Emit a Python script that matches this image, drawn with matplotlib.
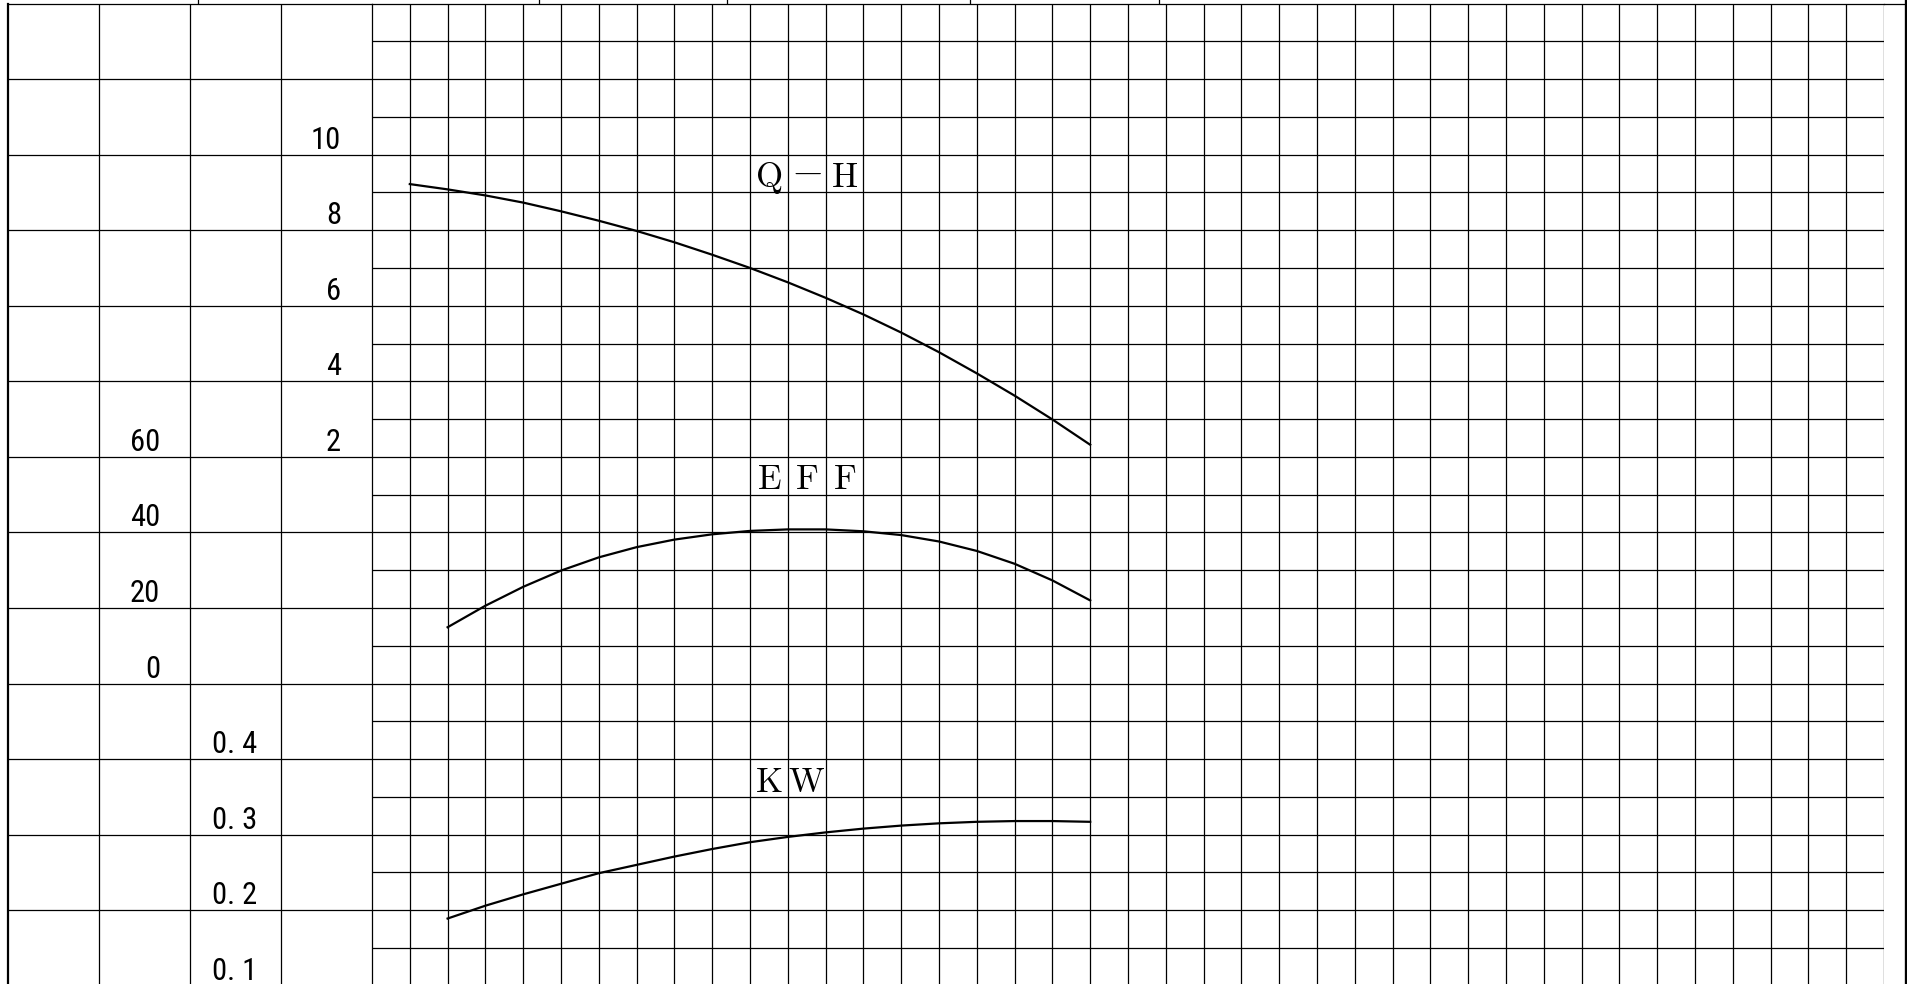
import matplotlib.pyplot as plt
from matplotlib import font_manager
from matplotlib.transforms import blended_transform_factory

# flow positions are counted in grid columns
qh_flow = list(range(1, 20))
qh_head = [9.22, 9.08, 8.92, 8.73, 8.50, 8.25, 7.98, 7.68, 7.35, 7.00,
           6.62, 6.21, 5.77, 5.29, 4.77, 4.21, 3.62, 2.99, 2.32]

eff_flow = list(range(2, 20))
eff_pct = [14.9, 20.6, 25.6, 29.9, 33.4, 36.1, 38.1, 39.5, 40.4, 40.8,
           40.8, 40.3, 39.3, 37.6, 35.1, 31.7, 27.3, 22.0]

kw_flow = list(range(2, 20))
kw_power = [0.189, 0.206, 0.221, 0.235, 0.249, 0.260, 0.271, 0.281, 0.290,
            0.297, 0.303, 0.308, 0.312, 0.315, 0.317, 0.318, 0.318, 0.317]

head_ticks = [10, 8, 6, 4, 2]
eff_ticks = [60, 40, 20, 0]
kw_ticks = [0.4, 0.3, 0.2, 0.1]
kw_tick_labels = ["0. 4", "0. 3", "0. 2", "0. 1"]

curve_names = {"qh": ["Q", "-", "H"], "eff": ["E", "F", "F"], "kw": ["K", "W"]}

# narrow digits if we can get them
installed = {f.name for f in font_manager.fontManager.ttflist}
num_family = 'DejaVu Sans'
for cand in ['Liberation Sans Narrow', 'Roboto Condensed', 'Open Sans Condensed',
             'Noto Sans CJK JP']:
    if cand in installed:
        num_family = cand
        break

plt.rcParams['mathtext.fontset'] = 'cm'
W, H = 1908, 984
fig = plt.figure(figsize=(W / 100, H / 100), dpi=100)

GRID_TOP = 3.5
PITCH = 37.78
N_ROWS = 26
N_COLS = 40
x0, x1 = 372, 1884
bottom = 1 - (GRID_TOP + N_ROWS * PITCH) / H
height = N_ROWS * PITCH / H

line_kw = dict(color='black', lw=0.9)

# left hand table
ax_tab = fig.add_axes([8 / W, bottom, (x0 - 8) / W, height])
ax_tab.set_xlim(0, 4)
ax_tab.set_ylim(13, 0)
for i in range(1, 4):
    ax_tab.axvline(i, **line_kw)
for j in range(1, 13):
    ax_tab.axhline(j, **line_kw)
ax_tab.set_xticks([])
ax_tab.set_yticks([])
for s in ['right', 'bottom']:
    ax_tab.spines[s].set_visible(False)
ax_tab.spines['left'].set_linewidth(1.6)
ax_tab.spines['top'].set_linewidth(0.9)

# graph paper with head axis
ax = fig.add_axes([x0 / W, bottom, (x1 - x0) / W, height])
ax.set_xlim(0, N_COLS)
ax.set_ylim(14 - N_ROWS, 14)
for i in range(1, N_COLS + 1):
    ax.axvline(i, **line_kw)
for j in range(14 - N_ROWS + 1, 14):
    ax.axhline(j, **line_kw)
ax.set_xticks([])
ax.set_yticks([])
for s in ['right', 'bottom']:
    ax.spines[s].set_visible(False)
ax.spines['left'].set_linewidth(0.9)
ax.spines['top'].set_linewidth(0.9)

ax_e = ax.twinx()
ax_e.set_ylim(-80, 180)
ax_k = ax.twinx()
ax_k.set_ylim(0.1, 1.4)
for a in (ax_e, ax_k):
    a.set_yticks([])
    for s in a.spines.values():
        s.set_visible(False)

curve_kw = dict(color='black', lw=1.6, zorder=5, solid_joinstyle='round')
ax.plot(qh_flow, qh_head, **curve_kw)
ax_e.plot(eff_flow, eff_pct, **curve_kw)
ax_k.plot(kw_flow, kw_power, **curve_kw)

# scale labels in the table columns
num_font = dict(family=[num_family, 'DejaVu Sans'], fontsize=22,
                ha='right', va='bottom', color='black')
tr = blended_transform_factory(fig.transFigure, ax.transData)
for v in head_ticks:
    ax.text(341 / W, v, str(v), transform=tr, clip_on=False, **num_font)
tr = blended_transform_factory(fig.transFigure, ax_e.transData)
for v in eff_ticks:
    ax_e.text(160 / W, v, str(v), transform=tr, clip_on=False, **num_font)
tr = blended_transform_factory(fig.transFigure, ax_k.transData)
for v, lab in zip(kw_ticks, kw_tick_labels):
    ax_k.text(257 / W, v, lab, transform=tr, clip_on=False, **num_font)


def put_name(a, letters, x, base, row):
    # one letter per grid cell, the dash is a wide minus sitting higher
    for i, ch in enumerate(letters):
        if ch == '-':
            a.text(x + i, base + 0.1 * row, r'$-$', ha='center', va='baseline',
                   fontsize=30, color='black')
        else:
            a.text(x + i, base, r'$\mathrm{%s}$' % ch, ha='center', va='baseline',
                   fontsize=25, color='black')


put_name(ax, curve_names["qh"], 10.5, 9 + 0.14, 1)
put_name(ax_e, curve_names["eff"], 10.5, 50 + 1.4, 10)
put_name(ax_k, curve_names["kw"], 10.5, 0.35 + 0.007, 0.05)

# outer frame bits
ax_frame = fig.add_axes([0, 0, 1, 1], zorder=-1)
ax_frame.set_xlim(0, W)
ax_frame.set_ylim(H, 0)
ax_frame.axis('off')
ax_frame.plot([x1, W - 2], [GRID_TOP, GRID_TOP], **line_kw)
ax_frame.plot([W - 2, W - 2], [0, H], color='black', lw=2.4)
for tx in [198, 539, 727, 970, 1159]:
    ax_frame.plot([tx, tx], [0, GRID_TOP], **line_kw)

fig.savefig('out.png', dpi=100)
